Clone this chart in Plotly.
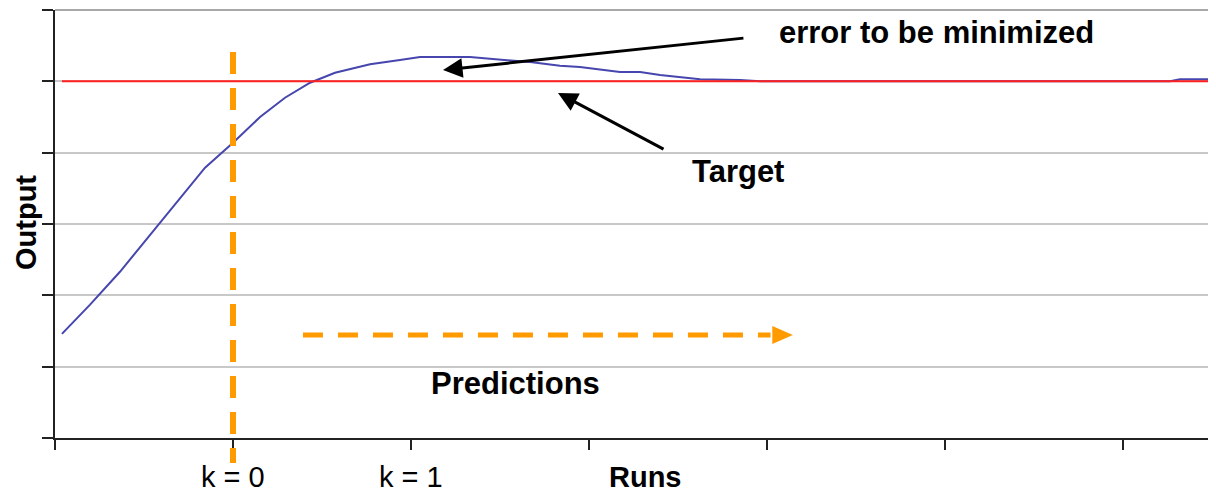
import plotly.graph_objects as go

# Data
runs = [0.39, 1.97, 3.65, 5.34, 7.02, 8.43, 10.0, 11.52, 12.92, 14.33, 15.73,
        17.70, 19.38, 20.51, 23.31, 25.0, 26.69, 28.37, 29.49, 31.74, 32.87,
        33.99, 36.24, 38.48, 39.61, 62.64, 63.2, 65.22]
output = [1.46, 1.87, 2.33, 2.85, 3.37, 3.79, 4.14, 4.50, 4.77, 4.98, 5.12,
          5.24, 5.30, 5.34, 5.34, 5.31, 5.27, 5.22, 5.20, 5.13, 5.13,
          5.09, 5.03, 5.02, 5.00, 5.00, 5.03, 5.03]
target_runs = [0.39, 65.22]
target = [5.0, 5.0]

x_ticks = [0, 10, 20, 30, 40, 50, 60]
y_ticks = [0, 1, 2, 3, 4, 5, 6]
k_labels = ["k = 0", "k = 1"]
k_positions = [10, 20]

ORANGE = "#FF9A00"
FONT = "Liberation Sans, Arial, sans-serif"
FS = 31
FS_EDGE = 29

fig = go.Figure()
fig.add_trace(go.Scatter(x=runs, y=output, mode="lines",
                         line=dict(color="#4646AE", width=2), showlegend=False))
fig.add_trace(go.Scatter(x=target_runs, y=target, mode="lines",
                         line=dict(color="#FF1F1F", width=2), showlegend=False))

XMAX = (1216 - 55) / 17.8

# The page body has an 8px margin; margins compensate so the plot area
# lands at x 55..1216, y 10..438 in the window.
fig.update_layout(
    width=1216, height=494,
    margin=dict(l=47, r=8, t=2, b=64),
    paper_bgcolor="white", plot_bgcolor="white",
    font=dict(family=FONT, color="black"),
    xaxis=dict(range=[0, XMAX], tickvals=x_ticks, showticklabels=False,
               ticks="outside", ticklen=10, tickwidth=1.5, tickcolor="#222",
               showgrid=False, zeroline=False, showline=True,
               linecolor="#222", linewidth=1.5),
    yaxis=dict(range=[0, 6], tickvals=y_ticks, showticklabels=False,
               ticks="outside", ticklen=11, tickwidth=1.5, tickcolor="#222",
               showgrid=True, gridcolor="#C8C8C8", gridwidth=1.5,
               zeroline=False, showline=True, linecolor="#222", linewidth=1.5),
)

PH = 428.0  # plot height in px

shapes = []
shapes.append(dict(type="line", xref="paper", yref="paper", x0=0, x1=1, y0=1, y1=1,
                   line=dict(color="#A8A8A8", width=2), layer="below"))
shapes.append(dict(type="line", xref="x", yref="paper", x0=10, x1=10,
                   y0=(438 - 52) / PH, y1=(438 - 463) / PH,
                   line=dict(color=ORANGE, width=6, dash="22px,14px")))
shapes.append(dict(type="line", xref="x", yref="y", x0=13.93, x1=40.2,
                   y0=1.444, y1=1.444,
                   line=dict(color=ORANGE, width=5, dash="20px,15px")))
shapes.append(dict(type="path", xref="x", yref="y",
                   path="M 40.3,1.57 L 41.45,1.444 L 40.3,1.318 Z",
                   fillcolor=ORANGE, line=dict(color=ORANGE, width=0)))
fig.update_layout(shapes=shapes)

bold = dict(family=FONT, size=FS, color="black")
bold_edge = dict(family=FONT, size=FS_EDGE, color="black")
C = dict(xanchor="center", yanchor="middle", showarrow=False)
ann = []
ann.append(dict(text="<b>error to be minimized</b>", x=(936 - 55) / 17.8, y=(438 - 33) / 71.33,
                xref="x", yref="y", font=bold, **C))
ann.append(dict(text="<b>Target</b>", x=(738 - 55) / 17.8, y=(438 - 172) / 71.33,
                xref="x", yref="y", font=bold, **C))
ann.append(dict(text="<b>Predictions</b>", x=(515 - 55) / 17.8, y=(438 - 383) / 71.33,
                xref="x", yref="y", font=bold, **C))
ann.append(dict(text="<b>Runs</b>", x=(645 - 55) / 17.8, y=(438 - 477) / PH,
                xref="x", yref="paper", font=bold_edge, **C))
ann.append(dict(text="<b>Output</b>", x=(26 - 55) / 1161, y=(438 - 223) / PH, textangle=-90,
                xref="paper", yref="paper", font=bold_edge, **C))
for lbl, pos in zip(k_labels, k_positions):
    ann.append(dict(text=lbl, x=pos, y=(438 - 477) / PH, xref="x", yref="paper",
                    font=dict(family=FONT, size=FS_EDGE, color="black"), **C))
ann.append(dict(text="", x=21.8, y=5.159, ax=38.76, ay=5.608, axref="x", ayref="y",
                xref="x", yref="y", showarrow=True, arrowhead=2, arrowsize=1.3,
                arrowwidth=3, arrowcolor="black"))
ann.append(dict(text="", x=28.26, y=4.837, ax=34.27, ay=4.038, axref="x", ayref="y",
                xref="x", yref="y", showarrow=True, arrowhead=2, arrowsize=1.3,
                arrowwidth=3, arrowcolor="black"))
fig.update_layout(annotations=ann)

fig.write_html("out.html")
